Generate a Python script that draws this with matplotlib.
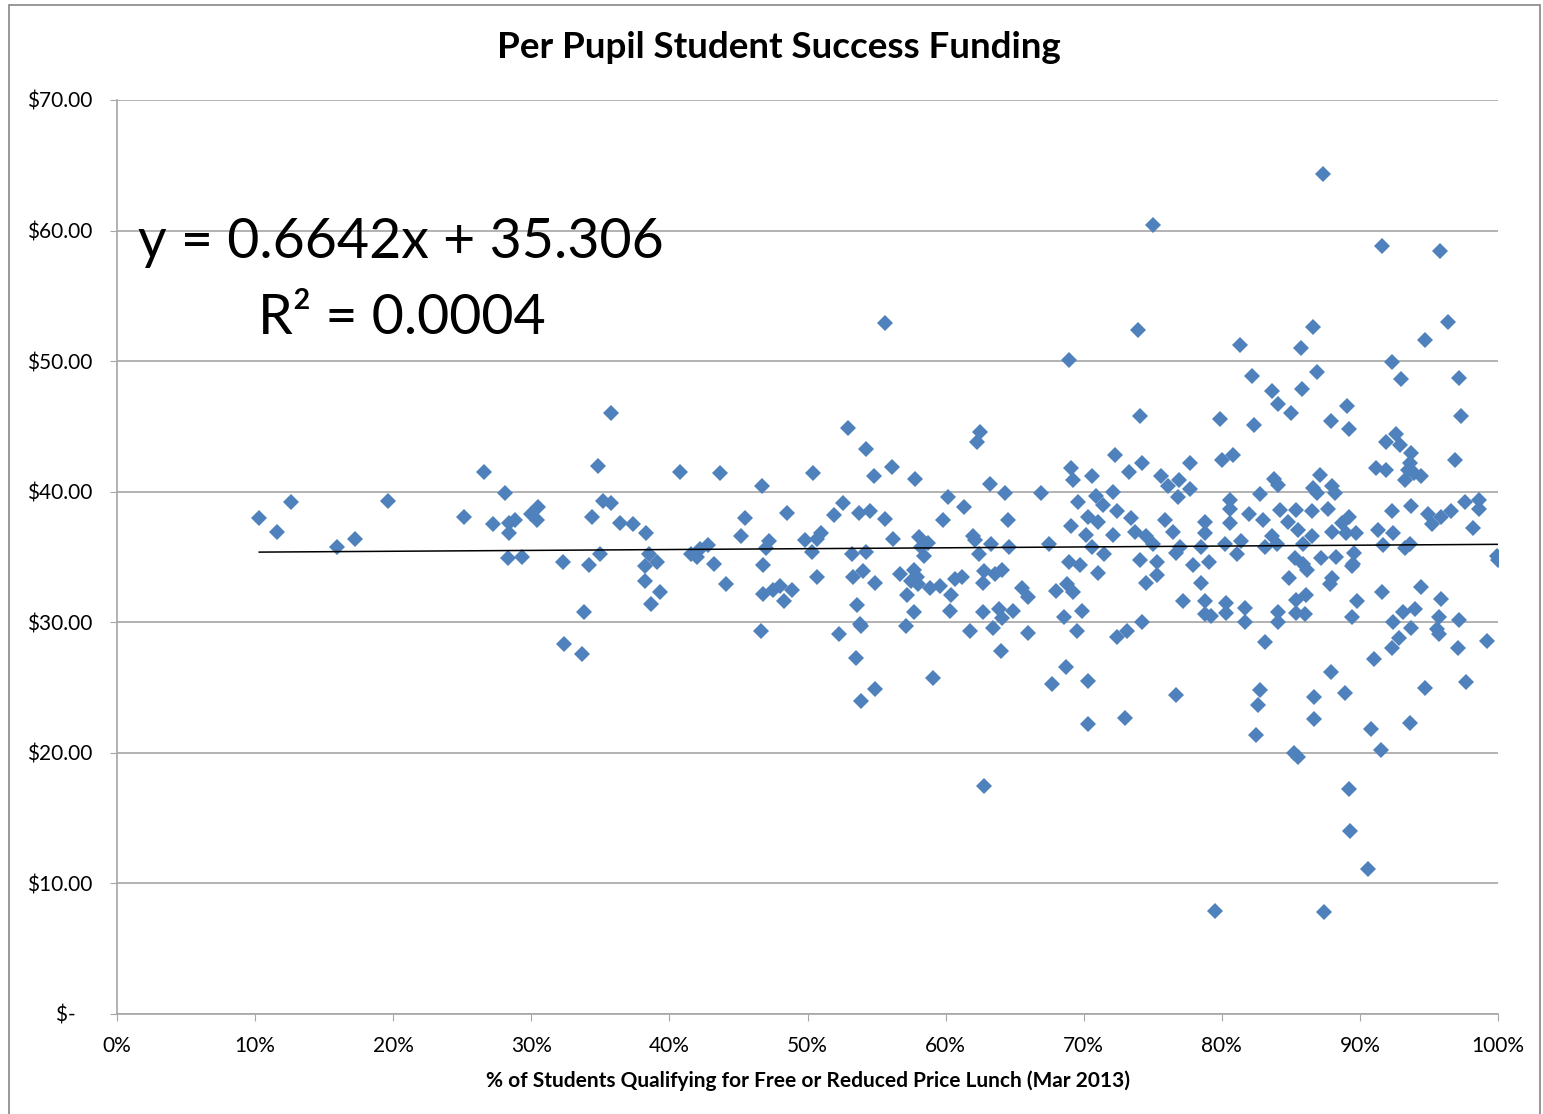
import numpy as np
import matplotlib
matplotlib.use('Agg')
import matplotlib.pyplot as plt
from matplotlib.ticker import PercentFormatter, FuncFormatter
from matplotlib.patches import Rectangle

plt.rcParams['font.family'] = ['Lato', 'DejaVu Sans']

# % of students qualifying for free/reduced lunch (percent) and per-pupil funding ($)
pct_lunch = [
    10.3, 11.6, 12.6, 15.9, 17.2, 19.6, 25.1, 26.6, 27.2, 28.1, 28.4, 28.4, 28.8, 28.3, 29.3,
    30.0, 30.5, 30.4, 32.3, 32.4, 33.7, 33.8, 34.2, 34.4, 34.8, 35.0, 35.2, 35.8, 35.8, 36.4,
    37.4, 38.3, 38.5, 39.1, 38.2, 38.2, 39.3, 38.7, 40.8, 41.6, 42.2, 42.8, 42.0, 43.2, 43.7,
    44.1, 45.2, 45.5, 46.7, 46.6, 46.8, 46.8, 47.0, 47.2, 47.5, 48.0, 48.3, 48.5, 48.9, 49.8,
    50.3, 50.4, 50.7, 50.7, 51.0,
    51.9, 52.3, 52.6, 52.9, 53.2, 53.3, 53.5, 53.6, 53.7, 53.8, 53.9, 53.9, 54.2, 54.2, 54.0,
    54.5, 54.8, 54.9, 54.9, 55.6, 55.6, 56.1, 56.2, 56.7, 57.1, 57.2, 57.7, 57.8, 58.1, 58.2,
    58.4, 57.7, 57.9, 57.5, 58.0, 58.7, 58.9, 59.1, 59.6, 59.8, 60.2, 60.3, 60.4, 60.7, 61.2,
    61.3, 61.8, 62.0, 62.1, 62.5, 62.3, 62.4, 62.7, 62.8, 62.7, 62.8, 63.2, 63.3, 63.6, 63.4,
    63.9, 64.1, 64.0, 64.1, 64.3, 64.5, 64.6, 64.9, 65.5, 66.0, 66.0, 66.9, 67.5, 67.7, 68.0,
    75.0, 73.9, 68.9, 74.1, 72.3, 74.2, 77.7, 69.1, 69.2, 70.6, 73.3, 75.6, 76.1, 76.9, 76.8,
    77.7, 72.1, 70.9, 69.6, 71.4, 72.4, 70.3, 71.0, 69.1, 73.4, 75.9, 76.5, 78.8, 70.2, 72.1,
    73.7, 74.5, 70.6, 75.0, 77.0, 78.5, 68.9, 69.7, 71.5, 74.1, 75.3, 76.7, 77.9, 71.0, 74.5,
    75.3, 78.5, 77.2, 78.8, 78.8, 79.2, 68.8, 69.2, 69.9, 68.6, 69.5, 72.4, 73.1, 74.2, 68.7,
    70.3, 76.7, 70.3, 73.0, 79.5,
    87.3, 86.6, 81.3, 85.7, 82.2, 86.9, 83.6, 85.8, 84.1, 85.0, 89.1, 79.9, 82.3, 87.9, 89.2,
    80.0, 80.8, 83.8, 84.1, 87.1, 86.6, 86.9, 88.0, 88.2, 82.8, 80.6, 80.6, 82.0, 83.0, 84.2,
    85.4, 86.5, 87.7, 80.6, 84.8, 85.5, 78.8, 88.0, 89.0, 89.7, 80.2, 81.4, 83.1, 83.6, 84.0,
    85.9, 86.5, 81.1, 79.1, 85.3, 85.9, 87.2, 88.3, 89.5, 84.9, 86.2, 89.4, 88.0, 87.8, 80.3,
    80.3, 81.7, 81.7, 83.1, 84.1, 84.1, 85.4, 86.1, 85.4, 86.0, 89.4, 89.8, 87.9, 88.9, 82.8,
    82.6, 86.7, 86.7, 82.5, 85.2, 85.5, 89.2, 89.3, 87.4,
    91.6, 95.8, 96.4, 94.7, 92.3, 93.0, 97.2, 97.3, 92.6, 91.9, 92.9, 93.7, 93.6, 96.9, 91.2,
    91.9, 93.5, 94.4, 93.3, 93.9, 97.6, 98.6, 98.6, 89.2, 88.7, 92.3, 93.7, 94.9, 95.2, 95.9,
    96.6, 98.2, 91.3, 92.4, 93.6, 93.3, 91.7, 89.6, 99.9, 100.0, 91.6, 94.4, 95.9, 93.1, 94.0,
    92.4, 93.7, 95.7, 95.6, 95.7, 97.2, 92.8, 92.3, 97.1, 99.2, 91.0, 94.7, 97.7, 90.8, 93.6,
    91.5, 90.6,
]
funding = [
    38.0, 36.9, 39.2, 35.8, 36.4, 39.3, 38.1, 41.5, 37.5, 39.9, 36.8, 37.6, 37.8, 34.9, 35.0,
    38.3, 38.8, 37.8, 34.6, 28.3, 27.6, 30.8, 34.4, 38.1, 42.0, 35.2, 39.3, 39.1, 46.0, 37.6,
    37.5, 36.8, 35.2, 34.6, 34.3, 33.2, 32.3, 31.4, 41.5, 35.2, 35.6, 35.9, 35.0, 34.5, 41.4,
    32.9, 36.6, 38.0, 40.4, 29.3, 34.4, 32.2, 35.7, 36.2, 32.5, 32.8, 31.6, 38.4, 32.5, 36.3,
    35.4, 41.4, 36.4, 33.5, 36.8,
    38.2, 29.1, 39.1, 44.9, 35.2, 33.5, 27.3, 31.3, 38.4, 29.9, 29.7, 24.0, 43.3, 35.4, 33.9,
    38.5, 41.2, 33.0, 24.9, 52.9, 37.9, 41.9, 36.4, 33.7, 29.7, 32.1, 30.8, 41.0, 36.5, 35.8,
    35.1, 34.0, 33.5, 33.2, 32.9, 36.1, 32.6, 25.7, 32.8, 37.8, 39.6, 30.9, 32.1, 33.3, 33.5,
    38.8, 29.3, 36.6, 36.3, 44.6, 43.8, 35.2, 33.0, 33.9, 30.8, 17.5, 40.6, 36.0, 33.7, 29.6,
    31.0, 30.3, 27.8, 34.0, 39.9, 37.8, 35.8, 30.9, 32.6, 31.9, 29.2, 39.9, 36.0, 25.3, 32.4,
    60.4, 52.4, 50.1, 45.8, 42.8, 42.2, 42.2, 41.8, 40.9, 41.2, 41.5, 41.2, 40.4, 40.9, 39.6,
    40.2, 40.0, 39.7, 39.2, 39.0, 38.5, 38.1, 37.7, 37.4, 38.0, 37.8, 36.9, 37.7, 36.7, 36.7,
    36.9, 36.6, 35.8, 36.0, 35.8, 35.8, 34.6, 34.4, 35.2, 34.8, 34.6, 35.3, 34.4, 33.8, 33.0,
    33.6, 33.0, 31.6, 31.6, 30.6, 30.5, 32.9, 32.3, 30.9, 30.4, 29.3, 28.9, 29.3, 30.0, 26.6,
    25.5, 24.4, 22.2, 22.7, 7.9,
    64.3, 52.6, 51.2, 51.0, 48.9, 49.2, 47.7, 47.9, 46.7, 46.0, 46.6, 45.6, 45.1, 45.4, 44.8,
    42.4, 42.8, 41.0, 40.5, 41.3, 40.3, 39.9, 40.4, 39.9, 39.8, 39.4, 38.7, 38.3, 37.8, 38.6,
    38.6, 38.5, 38.7, 37.6, 37.7, 37.1, 36.8, 36.9, 36.8, 36.8, 36.0, 36.2, 35.8, 36.6, 36.0,
    36.0, 36.6, 35.2, 34.6, 34.9, 34.5, 34.9, 35.0, 34.5, 33.4, 34.0, 34.3, 33.4, 32.9, 31.5,
    30.7, 31.1, 30.0, 28.5, 30.8, 30.0, 31.7, 32.1, 30.7, 30.6, 30.4, 31.6, 26.2, 24.6, 24.8,
    23.7, 24.3, 22.6, 21.4, 20.0, 19.7, 17.2, 14.0, 7.8,
    58.8, 58.4, 53.0, 51.6, 49.9, 48.6, 48.7, 45.8, 44.4, 43.8, 43.6, 43.0, 42.2, 42.4, 41.8,
    41.7, 41.7, 41.2, 40.9, 41.4, 39.2, 39.4, 38.7, 38.1, 37.6, 38.5, 38.9, 38.3, 37.5, 38.1,
    38.5, 37.2, 37.1, 36.8, 36.0, 35.7, 35.9, 35.3, 35.1, 34.8, 32.3, 32.7, 31.8, 30.8, 31.0,
    30.0, 29.6, 30.4, 29.5, 29.1, 30.2, 28.8, 28.0, 28.0, 28.6, 27.2, 25.0, 25.4, 21.8, 22.3,
    20.2, 11.1,
]

# Excel linear trendline shown on the chart
slope = 0.6642
intercept = 35.306

x = np.array(pct_lunch) / 100.0
y = np.array(funding)

fig = plt.figure(figsize=(15.43, 11.14), dpi=100)
ax = fig.add_axes([117 / 1543, 1 - 1014 / 1114, (1498 - 117) / 1543, (1014 - 100) / 1114])

ax.plot(x, y, linestyle='none', marker='D', markersize=8.5,
        color='#4F81BD', markeredgewidth=0, zorder=3)

xt = np.array([x.min(), 1.0])
ax.plot(xt, slope * xt + intercept, color='black', linewidth=1.1, zorder=4)

ax.set_xlim(0, 1)
ax.set_ylim(0, 70)
ax.set_xticks(np.arange(0, 1.01, 0.1))
ax.set_yticks(np.arange(0, 71, 10))
ax.xaxis.set_major_formatter(PercentFormatter(1.0, decimals=0))
ax.yaxis.set_major_formatter(FuncFormatter(lambda v, p: '$-   ' if v == 0 else f'${v:.2f}'))

ax.grid(axis='y', color='#A6A6A6', linewidth=1.2)
ax.set_axisbelow(True)
for s in ['top', 'right']:
    ax.spines[s].set_visible(False)
for s in ['left', 'bottom']:
    ax.spines[s].set_color('#A6A6A6')
    ax.spines[s].set_linewidth(1.2)
ax.tick_params(axis='both', direction='out', length=5, color='#A6A6A6', labelsize=15)
ax.tick_params(axis='y', pad=13)
ax.tick_params(axis='x', pad=11)

fig.text(779 / 1543, 1 - 48 / 1114, 'Per Pupil Student Success Funding',
         fontsize=26.5, fontweight='bold', ha='center', va='center')
ax.set_xlabel('% of Students Qualifying for Free or Reduced Price Lunch (Mar 2013)',
              fontsize=15, fontweight='bold', labelpad=10)

ax.text(0.015, 59.1, 'y = 0.6642x + 35.306', fontsize=40, va='center', ha='left')
ax.text(0.102, 53.3, 'R² = 0.0004', fontsize=40, va='center', ha='left')

fig.patches.append(Rectangle((9 / 1543, -0.01), (1540 - 9) / 1543, 1.01 - 5 / 1114,
                             transform=fig.transFigure, fill=False,
                             edgecolor='#868686', linewidth=1.2))

fig.savefig('out.png', dpi=100)
